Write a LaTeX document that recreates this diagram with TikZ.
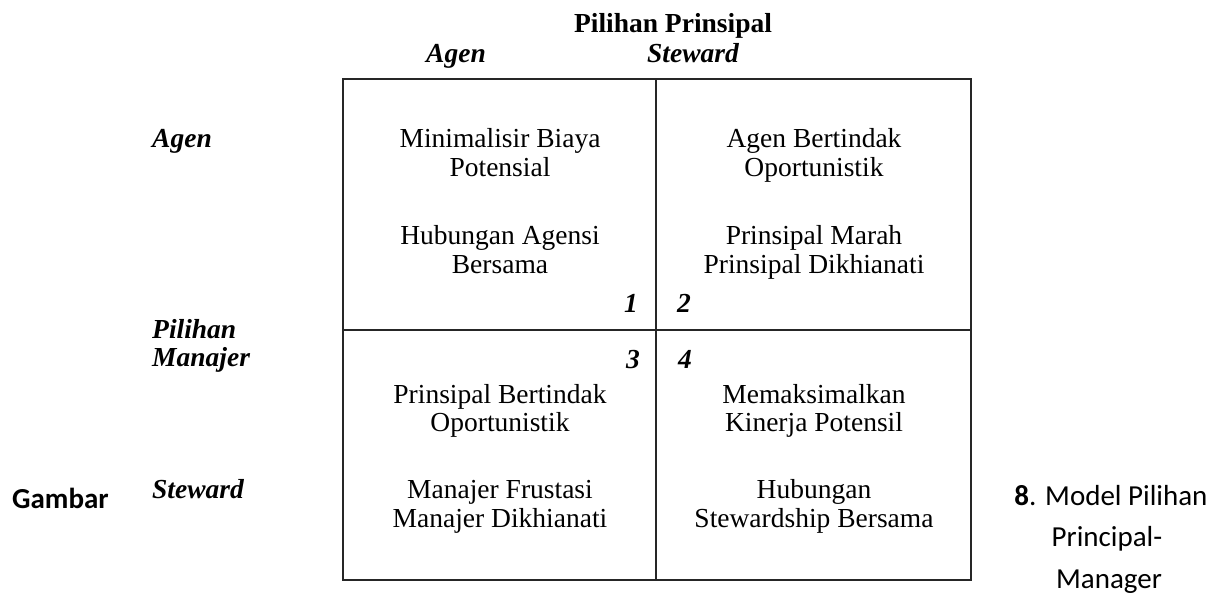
\documentclass[tikz,border=0pt]{standalone}
\usepackage{fontspec}
\setmainfont{Liberation Serif}
\newfontfamily\capfont{Carlito}
\begin{document}
\begin{tikzpicture}[x=1pt,y=-1pt,
  every node/.style={inner sep=0pt, font=\fontsize{27.5}{29}\selectfont},
  cell/.style={anchor=base},
  head/.style={anchor=base, font=\fontsize{27.5}{29}\selectfont\bfseries},
  role/.style={anchor=base, font=\fontsize{27.5}{29}\selectfont\bfseries\itshape},
  sidelabel/.style={anchor=base west, font=\fontsize{27.5}{29}\selectfont\bfseries\itshape},
  quad/.style={anchor=base, font=\fontsize{27.5}{29}\selectfont\bfseries\itshape},
  caption/.style={anchor=base, font=\fontsize{29}{42}\selectfont\capfont},
  frame/.style={line width=1.4pt, draw=black!85}]
\useasboundingbox (0,0) rectangle (1219,599);

% frame of the 2x2 matrix
\coordinate (tl) at (343,79);
\coordinate (br) at (971,580);
\coordinate (mt) at (656,79);
\coordinate (mb) at (656,580);
\coordinate (ml) at (343,330);
\coordinate (mr) at (971,330);
\draw[frame] (tl) rectangle (br);
\draw[frame] (mt) -- (mb);
\draw[frame] (ml) -- (mr);

% column headings
\node[head] (principal) at (673,33) {Pilihan Prinsipal};
\node[role] (colagen) at (456,63) {Agen};
\node[role] (colsteward) at (693,63) {Steward};

% row headings
\node[sidelabel] (rowagen) at (152,148) {Agen};
\node[sidelabel] (manager1) at (152,338) {Pilihan};
\node[sidelabel] (manager2) at (152,366) {Manajer};
\node[sidelabel] (rowsteward) at (152,498) {Steward};

% quadrant 1
\node[cell] (a1) at (500,148) {Minimalisir Biaya};
\node[cell] (a2) at (500,177) {Potensial};
\node[cell] (a3) at (500,244) {Hubungan Agensi};
\node[cell] (a4) at (500,273) {Bersama};
% quadrant 2
\node[cell] (b1) at (814,148) {Agen Bertindak};
\node[cell] (b2) at (814,177) {Oportunistik};
\node[cell] (b3) at (814,244) {Prinsipal Marah};
\node[cell] (b4) at (814,273) {Prinsipal Dikhianati};
% quadrant 3
\node[cell] (c1) at (500,403) {Prinsipal Bertindak};
\node[cell] (c2) at (500,431) {Oportunistik};
\node[cell] (c3) at (500,498) {Manajer Frustasi};
\node[cell] (c4) at (500,527) {Manajer Dikhianati};
% quadrant 4
\node[cell] (d1) at (814,403) {Memaksimalkan};
\node[cell] (d2) at (814,431) {Kinerja Potensil};
\node[cell] (d3) at (814,498) {Hubungan};
\node[cell] (d4) at (814,527) {Stewardship Bersama};

% quadrant numbers
\node[quad] (n1) at (631,312) {1};
\node[quad] (n2) at (684,312) {2};
\node[quad] (n3) at (633,368) {3};
\node[quad] (n4) at (685,368) {4};

% figure caption
\node[caption, anchor=base west] (gambar) at (12,508) {\bfseries Gambar};
\node[caption] (cap1) at (1111,505) {\textbf{8}. Model Pilihan};
\node[caption] (cap2) at (1107,546) {Principal-};
\node[caption] (cap3) at (1109,588) {Manager};
\end{tikzpicture}
\end{document}
